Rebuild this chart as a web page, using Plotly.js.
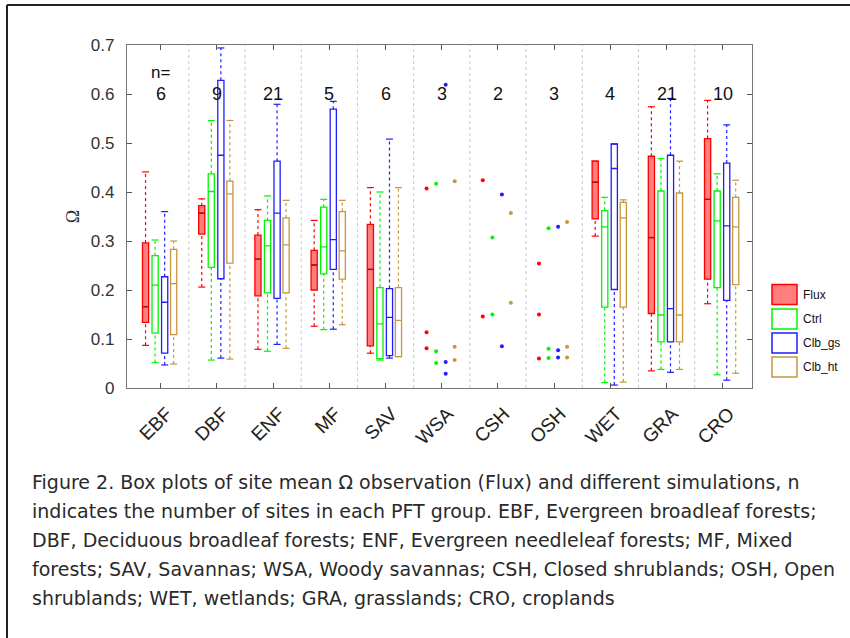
<!DOCTYPE html>
<html>
<head>
<meta charset="utf-8">
<script src="https://cdn.plot.ly/plotly-3.0.1.min.js"></script>
<style>html,body{margin:0;padding:0;background:#fff;}#chart{width:850px;height:638px;}</style>
</head>
<body>
<div id="chart"></div>
<script>
// ---- data ----
const categories = ['EBF','DBF','ENF','MF','SAV','WSA','CSH','OSH','WET','GRA','CRO'];
const nSites = [6, 9, 21, 5, 6, 3, 2, 3, 4, 21, 10];
const seriesNames = ['Flux','Ctrl','Clb_gs','Clb_ht'];

// box statistics per category (null = no box, only points)
const fluxLo  = [0.087,0.206,0.079,0.126,0.071,null,null,null,0.310,0.035,0.172];
const fluxQ1  = [0.134,0.314,0.188,0.200,0.086,null,null,null,0.345,0.152,0.222];
const fluxMed = [0.166,0.357,0.263,0.251,0.242,null,null,null,0.420,0.307,0.385];
const fluxQ3  = [0.296,0.372,0.312,0.281,0.334,null,null,null,0.463,0.473,0.509];
const fluxHi  = [0.441,0.386,0.364,0.342,0.409,null,null,null,0.463,0.574,0.587];

const ctrlLo  = [0.052,0.057,0.075,0.119,0.057,null,null,null,0.011,0.038,0.027];
const ctrlQ1  = [0.112,0.246,0.194,0.233,0.060,null,null,null,0.165,0.094,0.205];
const ctrlMed = [0.210,0.401,0.290,0.288,0.131,null,null,null,0.329,0.149,0.341];
const ctrlQ3  = [0.270,0.437,0.342,0.369,0.205,null,null,null,0.362,0.402,0.402];
const ctrlHi  = [0.302,0.546,0.392,0.385,0.400,null,null,null,0.389,0.468,0.437];

const gsLo  = [0.047,0.061,0.089,0.120,0.061,null,null,null,0.006,0.032,0.016];
const gsQ1  = [0.071,0.223,0.183,0.242,0.066,null,null,null,0.201,0.094,0.179];
const gsMed = [0.175,0.475,0.357,0.303,0.144,null,null,null,0.448,0.162,0.331];
const gsQ3  = [0.227,0.628,0.463,0.569,0.203,null,null,null,0.498,0.475,0.459];
const gsHi  = [0.360,0.694,0.579,0.585,0.508,null,null,null,0.498,0.591,0.537];

const htLo  = [0.049,0.059,0.081,0.129,0.064,null,null,null,0.012,0.038,0.030];
const htQ1  = [0.109,0.255,0.194,0.222,0.064,null,null,null,0.165,0.094,0.211];
const htMed = [0.213,0.396,0.292,0.280,0.138,null,null,null,0.347,0.149,0.329];
const htQ3  = [0.283,0.422,0.347,0.360,0.205,null,null,null,0.379,0.398,0.389];
const htHi  = [0.300,0.546,0.383,0.383,0.409,null,null,null,0.384,0.463,0.424];

// individual site values for the small groups
const dotCategories = ['WSA','CSH','OSH'];
const fluxDots = [[0.407,0.114,0.081],[0.424,0.146],[0.254,0.150,0.060]];
const ctrlDots = [[0.417,0.075,0.051],[0.307,0.150],[0.326,0.080,0.061]];
const gsDots   = [[0.619,0.053,0.029],[0.395,0.085],[0.329,0.077,0.062]];
const htDots   = [[0.422,0.084,0.057],[0.357,0.174],[0.339,0.084,0.062]];

// ---- styling ----
const colors = ['rgb(255,0,0)','rgb(0,245,0)','rgb(30,30,255)','rgb(200,150,60)'];
const fills  = ['rgba(255,40,40,0.6)','rgba(0,0,0,0)','rgba(0,0,0,0)','rgba(0,0,0,0)'];
const offsets = [-0.27,-0.10,0.07,0.23];
const boxW = 0.11;

const stats = [
  [fluxLo,fluxQ1,fluxMed,fluxQ3,fluxHi],
  [ctrlLo,ctrlQ1,ctrlMed,ctrlQ3,ctrlHi],
  [gsLo,gsQ1,gsMed,gsQ3,gsHi],
  [htLo,htQ1,htMed,htQ3,htHi]
];
const dots = [fluxDots,ctrlDots,gsDots,htDots];

const traces = [];
stats.forEach((st, s) => {
  const [lo,q1,med,q3,hi] = st;
  const idx = categories.map((c,i)=>i).filter(i => q1[i] !== null);
  const xs = idx.map(i => i + offsets[s]);
  // whiskers
  const wx = [], wy = [], cx = [], cy = [];
  idx.forEach(i => {
    const x = i + offsets[s];
    if (hi[i] > q3[i]) { wx.push(x,x,null); wy.push(q3[i],hi[i],null); }
    if (lo[i] < q1[i]) { wx.push(x,x,null); wy.push(lo[i],q1[i],null); }
    cx.push(x,x); cy.push(lo[i],hi[i]);
  });
  traces.push({type:'scatter',mode:'lines',x:wx,y:wy,hoverinfo:'skip',showlegend:false,
    line:{color:colors[s],width:1.2,dash:'3px,3px'}});
  traces.push({type:'scatter',mode:'markers',x:cx,y:cy,hoverinfo:'skip',showlegend:false,
    marker:{symbol:'line-ew',size:5,line:{color:colors[s],width:1.2}}});
  traces.push({type:'box',name:seriesNames[s],x:xs,
    q1:idx.map(i=>q1[i]),median:idx.map(i=>med[i]),q3:idx.map(i=>q3[i]),
    lowerfence:idx.map(i=>q1[i]),upperfence:idx.map(i=>q3[i]),
    width:boxW,whiskerwidth:0,boxpoints:false,showlegend:false,
    line:{color:colors[s],width:1.3},fillcolor:fills[s]});
  if (s === 0) {
    const mx = [], my = [];
    idx.forEach(i => { const x=i+offsets[s]; mx.push(x-boxW/2,x+boxW/2,null); my.push(med[i],med[i],null); });
    traces.push({type:'scatter',mode:'lines',x:mx,y:my,hoverinfo:'skip',showlegend:false,
      line:{color:'rgb(150,20,20)',width:1.3}});
  }
  // points for small groups
  const px = [], py = [];
  dotCategories.forEach((c,k) => {
    const i = categories.indexOf(c);
    dots[s][k].forEach(v => { px.push(i + offsets[s]); py.push(v); });
  });
  traces.push({type:'scatter',mode:'markers',x:px,y:py,hoverinfo:'skip',showlegend:false,
    marker:{color:colors[s],size:4}});
});

// ---- layout helpers (pixel -> paper) ----
const L = 127, R = 752, T = 45, B = 388;
const pX = px => (px - L) / (R - L);
const pY = py => (B - py) / (B - T);

const shapes = [];
for (let i = 0; i < categories.length - 1; i++) {
  shapes.push({type:'line',xref:'x',yref:'paper',x0:i+0.5,x1:i+0.5,y0:0,y1:1,layer:'below',
    line:{color:'rgb(200,200,200)',width:1,dash:'3px,3px'}});
}
// frame lines of the figure card
shapes.push({type:'line',xref:'paper',yref:'paper',x0:pX(7),x1:pX(852),y0:pY(5),y1:pY(5),line:{color:'#222',width:2}});
shapes.push({type:'line',xref:'paper',yref:'paper',x0:pX(7),x1:pX(7),y0:pY(5),y1:pY(640),line:{color:'#222',width:2}});

const annotations = [];
// n labels
annotations.push({xref:'x',yref:'y',x:0,y:0.643,text:'n=',showarrow:false,font:{family:'Liberation Sans, Arial',size:17,color:'#111'}});
categories.forEach((c,i)=>{
  annotations.push({xref:'x',yref:'y',x:i,y:0.600,text:String(nSites[i]),showarrow:false,
    font:{family:'Liberation Sans, Arial',size:18,color:'#111'}});
});
// legend
const legY = [294.5,319,343,367];
seriesNames.forEach((n,s)=>{
  shapes.push({type:'rect',xref:'paper',yref:'paper',x0:pX(772),x1:pX(797),y0:pY(legY[s]-10),y1:pY(legY[s]+10),
    line:{color:colors[s],width:1.5},fillcolor:fills[s]});
  annotations.push({xref:'paper',yref:'paper',x:pX(801),y:pY(legY[s]),xanchor:'left',yanchor:'middle',text:n,showarrow:false,
    font:{family:'Liberation Sans, Arial',size:12,color:'#111'}});
});
// caption
const captionLines = [
  'Figure 2. Box plots of site mean Ω observation (Flux) and different simulations, n',
  'indicates the number of sites in each PFT group. EBF, Evergreen broadleaf forests;',
  'DBF, Deciduous broadleaf forests; ENF, Evergreen needleleaf forests; MF, Mixed',
  'forests; SAV, Savannas; WSA, Woody savannas; CSH, Closed shrublands; OSH, Open',
  'shrublands; WET, wetlands; GRA, grasslands; CRO, croplands'
];
captionLines.forEach((t,k)=>{
  annotations.push({xref:'paper',yref:'paper',x:pX(30),y:pY(482+29*k),xanchor:'left',yanchor:'middle',text:t,showarrow:false,
    font:{family:'DejaVu Sans',size:19,color:'#2a2a2a'}});
});

const layout = {
  width:850,height:638,
  margin:{l:L,r:850-R,t:T,b:638-B},
  paper_bgcolor:'#fff',plot_bgcolor:'#fff',
  showlegend:false,boxmode:'overlay',
  xaxis:{range:[-0.6,10.52],tickvals:categories.map((c,i)=>i),ticktext:categories,tickangle:-45,
    ticks:'inside',ticklen:5,tickcolor:'#555',showline:true,linecolor:'#777',linewidth:1.2,mirror:'ticks',
    ticklabelstandoff:6,ticklabelshift:6,
    showgrid:false,zeroline:false,tickfont:{family:'Liberation Sans, Arial',size:19,color:'#222'}},
  yaxis:{range:[0,0.7],tickvals:[0,0.1,0.2,0.3,0.4,0.5,0.6,0.7],ticktext:['0','0.1','0.2','0.3','0.4','0.5','0.6','0.7'],
    ticks:'inside',ticklen:5,tickcolor:'#555',showline:true,linecolor:'#777',linewidth:1.2,mirror:'ticks',
    showgrid:false,zeroline:false,ticklabelstandoff:8,tickfont:{family:'Liberation Sans, Arial',size:17,color:'#333'},
    title:{text:'Ω',standoff:6,font:{family:'Liberation Serif, Times New Roman',size:18,color:'#333'}}},
  shapes:shapes,annotations:annotations
};

Plotly.newPlot('chart',traces,layout,{displayModeBar:false,staticPlot:true});
</script>
</body>
</html>
